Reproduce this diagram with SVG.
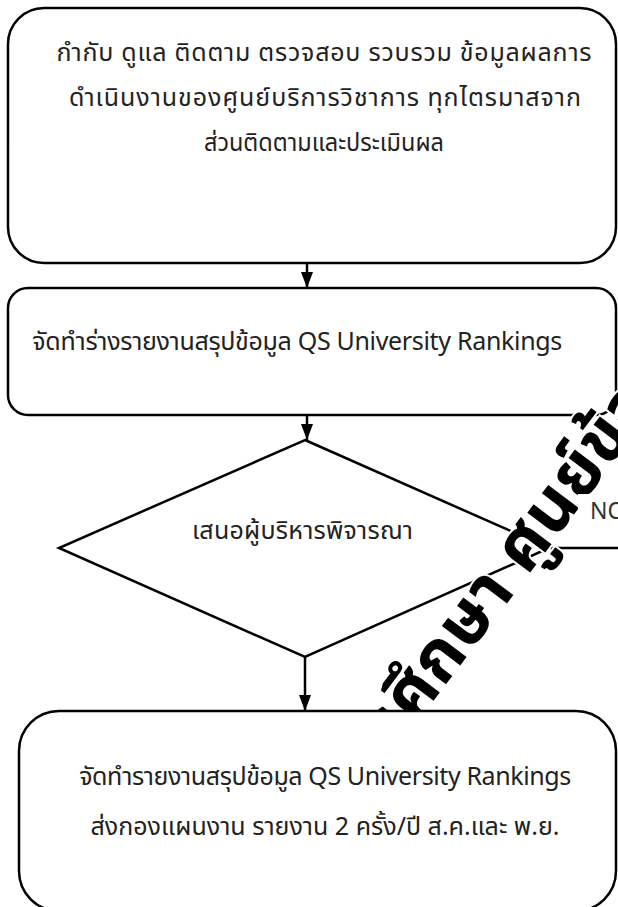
<svg xmlns="http://www.w3.org/2000/svg" width="618" height="907" viewBox="0 0 618 907">
<defs>
<style>
.box{fill:#fff;stroke:#000;stroke-width:2.5}
.t{font-family:"Noto Sans Thai","Leelawadee UI","Noto Sans",sans-serif;font-size:25px;fill:#222}
.c{text-anchor:middle}
.ln{stroke:#000;stroke-width:2.5;fill:none}
.wm{font-family:"Noto Sans Thai","Noto Sans",sans-serif;font-weight:bold;font-size:70px;fill:#000;stroke:#fff;stroke-width:4;paint-order:stroke}
</style>
<marker id="ah" viewBox="0 0 16 12" refX="16" refY="6" markerWidth="16" markerHeight="12" markerUnits="userSpaceOnUse" orient="auto">
<path d="M0,0 L16,6 L0,12 z" fill="#000"/>
</marker>
</defs>
<g id="n1"><rect class="box" x="8" y="8" width="608" height="255" rx="36"/>
<text class="t c" x="324" y="61" textLength="535">กำกับ ดูแล ติดตาม ตรวจสอบ รวบรวม ข้อมูลผลการ</text>
<text class="t c" x="325" y="106" textLength="512">ดำเนินงานของศูนย์บริการวิชาการ ทุกไตรมาสจาก</text>
<text class="t c" x="324" y="151" textLength="240" lengthAdjust="spacingAndGlyphs">ส่วนติดตามและประเมินผล</text></g>
<g id="n2"><rect class="box" x="8" y="288" width="608" height="127" rx="20"/>
<text class="t" x="32" y="350" textLength="530">จัดทำร่างรายงานสรุปข้อมูล QS University Rankings</text></g>
<g id="n3"><polygon class="box" points="305,440 549,548 305,657 59,548"/>
<text class="t" x="192" y="539" textLength="221">เสนอผู้บริหารพิจารณา</text></g>
<g id="connectors">
<line class="ln" x1="307" y1="263" x2="307" y2="288" marker-end="url(#ah)"/>
<line class="ln" x1="307" y1="415" x2="307" y2="440" marker-end="url(#ah)"/>
<line class="ln" x1="305" y1="657" x2="305" y2="711" marker-end="url(#ah)"/>
<line class="ln" x1="549" y1="548" x2="618" y2="548"/>
</g>
<text class="wm" transform="translate(349,813) rotate(-53)">การศึกษา ศูนย์ข้อมูล</text>
<g id="no"><rect x="578" y="494" width="40" height="52" fill="#fff"/>
<text class="t" x="590" y="519" style="font-size:23px;fill:#333">NO</text></g>
<g id="n4"><rect class="box" x="19" y="711" width="597" height="200" rx="40"/>
<text class="t c" x="325" y="785" textLength="492">จัดทำรายงานสรุปข้อมูล QS University Rankings</text>
<text class="t c" x="325" y="835" textLength="469">ส่งกองแผนงาน รายงาน 2 ครั้ง/ปี ส.ค.และ พ.ย.</text></g>
</svg>
